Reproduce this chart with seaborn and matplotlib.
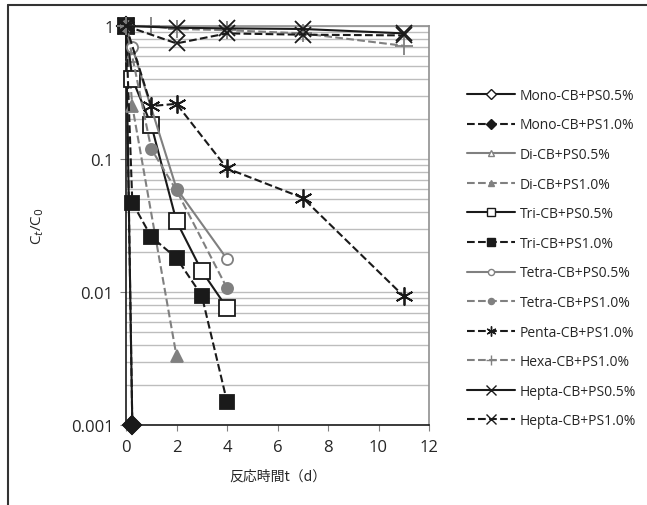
import matplotlib
matplotlib.use('Agg')
import matplotlib.pyplot as plt
import seaborn as sns
from matplotlib.ticker import FixedLocator, FixedFormatter, NullFormatter, LogLocator
from matplotlib.lines import Line2D

# data (time in days, Ct/C0)
mono05_t = [0, 0.25]
mono05_c = [1.0, 0.001]
mono10_t = [0, 0.25]
mono10_c = [1.0, 0.001]
di05_t = [0, 0.25]
di05_c = [1.0, 0.6]
di10_t = [0, 0.25, 2]
di10_c = [1.0, 0.25, 0.0033]
tri05_t = [0, 0.25, 1, 2, 3, 4]
tri05_c = [1.0, 0.4, 0.18, 0.034, 0.0144, 0.0076]
tri10_t = [0, 0.25, 1, 2, 3, 4]
tri10_c = [1.0, 0.047, 0.026, 0.018, 0.0094, 0.0015]
tetra05_t = [0, 0.25, 2, 4]
tetra05_c = [1.0, 0.69, 0.06, 0.0177]
tetra10_t = [0, 1, 2, 4]
tetra10_c = [1.0, 0.119, 0.058, 0.0107]
penta10_t = [0, 1, 2, 4, 7, 11]
penta10_c = [1.0, 0.25, 0.26, 0.085, 0.051, 0.0093]
hexa10_t = [0, 1, 2, 4, 7, 11]
hexa10_c = [1.0, 1.0, 0.95, 0.93, 0.88, 0.71]
hepta05_t = [0, 2, 4, 7, 11]
hepta05_c = [1.0, 0.97, 0.96, 0.95, 0.88]
hepta10_t = [0, 2, 4, 7, 11]
hepta10_c = [1.0, 0.74, 0.88, 0.86, 0.85]

names = ['Mono-CB+PS0.5%', 'Mono-CB+PS1.0%', 'Di-CB+PS0.5%', 'Di-CB+PS1.0%',
         'Tri-CB+PS0.5%', 'Tri-CB+PS1.0%', 'Tetra-CB+PS0.5%', 'Tetra-CB+PS1.0%',
         'Penta-CB+PS1.0%', 'Hexa-CB+PS1.0%', 'Hepta-CB+PS0.5%', 'Hepta-CB+PS1.0%']

sns.set_style('white')
plt.rcParams['font.family'] = ['Open Sans', 'Noto Sans CJK JP', 'DejaVu Sans']

BLK = '#1a1a1a'
GRY = '#808080'
asterisk = (6, 2, 0)

series = [
    (mono05_t, mono05_c, BLK, '-', 'D', 'white', 9),
    (mono10_t, mono10_c, BLK, '--', 'D', BLK, 9),
    (di05_t, di05_c, GRY, '-', '^', 'white', 9),
    (di10_t, di10_c, GRY, '--', '^', GRY, 9),
    (tri05_t, tri05_c, BLK, '-', 's', 'white', 11),
    (tri10_t, tri10_c, BLK, '--', 's', BLK, 10),
    (tetra05_t, tetra05_c, GRY, '-', 'o', 'white', 8),
    (tetra10_t, tetra10_c, GRY, '--', 'o', GRY, 8),
    (penta10_t, penta10_c, BLK, '--', asterisk, BLK, 13),
    (hexa10_t, hexa10_c, GRY, '--', '+', GRY, 13),
    (hepta05_t, hepta05_c, BLK, '-', 'x', BLK, 12),
    (hepta10_t, hepta10_c, BLK, '--', 'x', BLK, 12),
]

fig = plt.figure(figsize=(6.47, 5.06), dpi=100)
ax = fig.add_axes([126 / 647, 1 - 426 / 506, (429 - 126) / 647, (426 - 27) / 506])

handles = []
for (t, c, col, ls, mk, mfc, ms), name in zip(series, names):
    sns.lineplot(x=t, y=c, ax=ax, color=col, linestyle=ls, marker=mk,
                 markerfacecolor=mfc, markeredgecolor=col, markersize=ms,
                 markeredgewidth=1.3, linewidth=1.5, clip_on=False, zorder=3)
    handles.append(Line2D([], [], color=col, linestyle=ls, marker=mk,
                          markerfacecolor=mfc, markeredgecolor=col,
                          markersize=ms * 0.55, markeredgewidth=1.0, linewidth=1.5))

ax.set_yscale('log')
ax.set_ylim(0.001, 1)
ax.set_xlim(0, 12)
ax.set_xticks(range(0, 13, 2))
ax.yaxis.set_major_locator(FixedLocator([0.001, 0.01, 0.1, 1]))
ax.yaxis.set_major_formatter(FixedFormatter(['0.001', '0.01', '0.1', '1']))
ax.yaxis.set_minor_locator(LogLocator(base=10, subs=range(2, 10)))
ax.yaxis.set_minor_formatter(NullFormatter())
ax.grid(True, axis='y', which='both', color='#bdbdbd', linewidth=1.0, zorder=0)
ax.grid(False, axis='x')
ax.set_axisbelow(True)
ax.tick_params(axis='both', which='major', labelsize=12, length=4, color=GRY,
               direction='out', left=True, bottom=True)
ax.tick_params(axis='x', which='major', pad=6)
ax.tick_params(axis='y', which='major', pad=5)
ax.tick_params(axis='y', which='minor', length=0)

for s in ['left', 'bottom']:
    ax.spines[s].set_color(BLK)
    ax.spines[s].set_linewidth(1.2)
for s in ['top', 'right']:
    ax.spines[s].set_color('#909090')
    ax.spines[s].set_linewidth(1.2)

ax.set_xlabel('反応時間t（d）', fontsize=10, family=['Noto Sans CJK JP', 'DejaVu Sans'], labelpad=10)
ax.set_ylabel(r'C$_t$/C$_0$', fontsize=11, labelpad=18)

fig.legend(handles, names, loc='center', bbox_to_anchor=(0.853, 0.488),
           frameon=False, fontsize=10, handlelength=3.4, handletextpad=0.4,
           labelspacing=1.05)

# outer frame of the chart area (top and left edges visible)
fig.add_artist(Line2D([8 / 647, 1], [1 - 6 / 506, 1 - 6 / 506], color='#333333', lw=1.5,
                      transform=fig.transFigure))
fig.add_artist(Line2D([8 / 647, 8 / 647], [0, 1 - 6 / 506], color='#333333', lw=1.5,
                      transform=fig.transFigure))

fig.savefig('out.png', dpi=100)
